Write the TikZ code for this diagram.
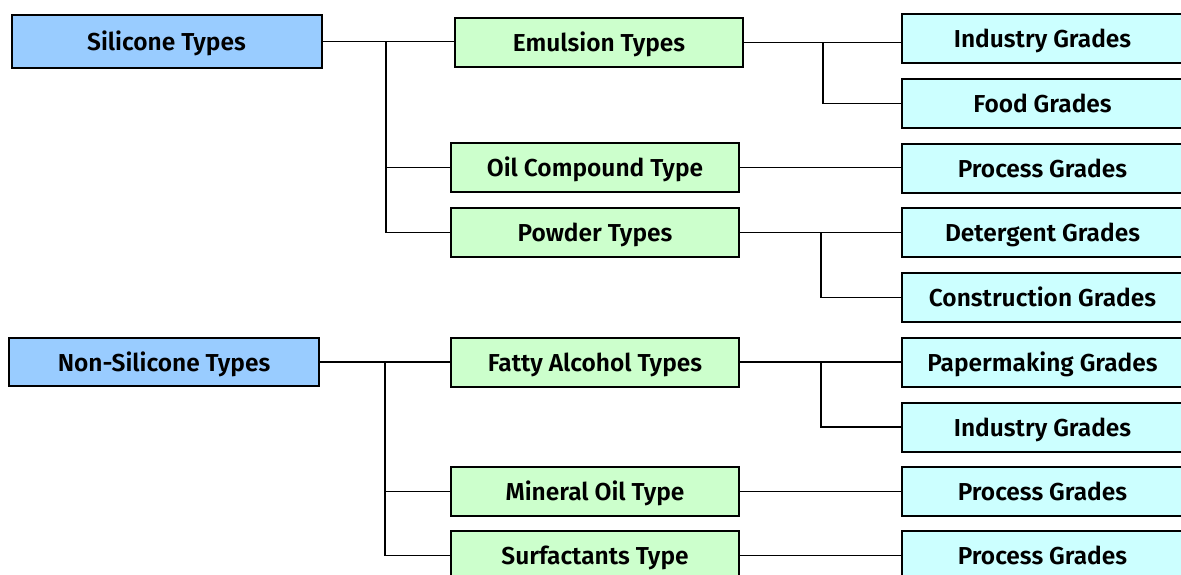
\documentclass[tikz,border=0pt]{standalone}
\usepackage{fontspec}
\setmainfont{Fira Sans}[UprightFont={* SemiBold}]
\definecolor{topblue}{HTML}{99CCFF}
\definecolor{midgreen}{HTML}{CCFFCC}
\definecolor{leafcyan}{HTML}{CCFFFF}
\tikzset{
  box/.style={draw=black, line width=2pt, rectangle, inner sep=0pt, text height=18pt, text depth=0pt, font=\fontsize{24.5}{29}\selectfont, text=black},
  topbox/.style={box, fill=topblue, minimum width=310, minimum height=51},
  midbox/.style={box, fill=midgreen, minimum width=288, minimum height=49},
  leafbox/.style={box, fill=leafcyan, minimum width=281, minimum height=49},
  link/.style={draw=black, line width=1.9pt}
}
\begin{document}
\begin{tikzpicture}[x=1pt,y=-1pt]
\useasboundingbox (0,0) rectangle (1181,574);
\begin{scope}
\clip (0,0) rectangle (1181,574);
% top level
\node[topbox, minimum height=53] (sil) at (166.5,41.5) {Silicone Types};
\node[topbox, minimum height=48] (nonsil) at (164,362) {Non-Silicone Types};
% middle level
\node[midbox] (em) at (599,42.5) {Emulsion Types};
\node[midbox] (oil) at (595,167.5) {Oil Compound Type};
\node[midbox] (pow) at (595,232.5) {Powder Types};
\node[midbox] (fat) at (595,362) {Fatty Alcohol Types};
\node[midbox] (min) at (595,491.5) {Mineral Oil Type};
\node[midbox] (sur) at (595,555.5) {Surfactants Type};
% leaves
\node[leafbox] (ind1) at (1042.5,38.5) {Industry Grades};
\node[leafbox] (food) at (1042.5,103.5) {Food Grades};
\node[leafbox] (proc1) at (1042.5,168.5) {Process Grades};
\node[leafbox] (det) at (1042.5,232.5) {Detergent Grades};
\node[leafbox] (cons) at (1042.5,297.5) {Construction Grades};
\node[leafbox] (pap) at (1042.5,362.5) {Papermaking Grades};
\node[leafbox] (ind2) at (1042.5,427) {Industry Grades};
\node[leafbox] (proc2) at (1042.5,491.5) {Process Grades};
\node[leafbox] (proc3) at (1042.5,555.5) {Process Grades};
% junction coordinates
\coordinate (j1) at (386,41.5);
\coordinate (j2) at (823,42.5);
\coordinate (j3) at (821,232.5);
\coordinate (j4) at (385,362);
\coordinate (j5) at (821,362);
% connectors
\draw[link] (sil.east) -- (sil.east -| em.west);
\draw[link] (j1) |- (oil.west);
\draw[link] (j1) |- (pow.west);
\draw[link] (em.east) -- (em.east -| ind1.west);
\draw[link] (j2) |- (food.west);
\draw[link] (oil.east) -- (oil.east -| proc1.west);
\draw[link] (pow.east) -- (pow.east -| det.west);
\draw[link] (j3) |- (cons.west);
\draw[link] (nonsil.east) -- (nonsil.east -| fat.west);
\draw[link] (j4) |- (min.west);
\draw[link] (j4) |- (sur.west);
\draw[link] (fat.east) -- (fat.east -| pap.west);
\draw[link] (j5) |- (ind2.west);
\draw[link] (min.east) -- (min.east -| proc2.west);
\draw[link] (sur.east) -- (sur.east -| proc3.west);
\end{scope}
\end{tikzpicture}
\end{document}
